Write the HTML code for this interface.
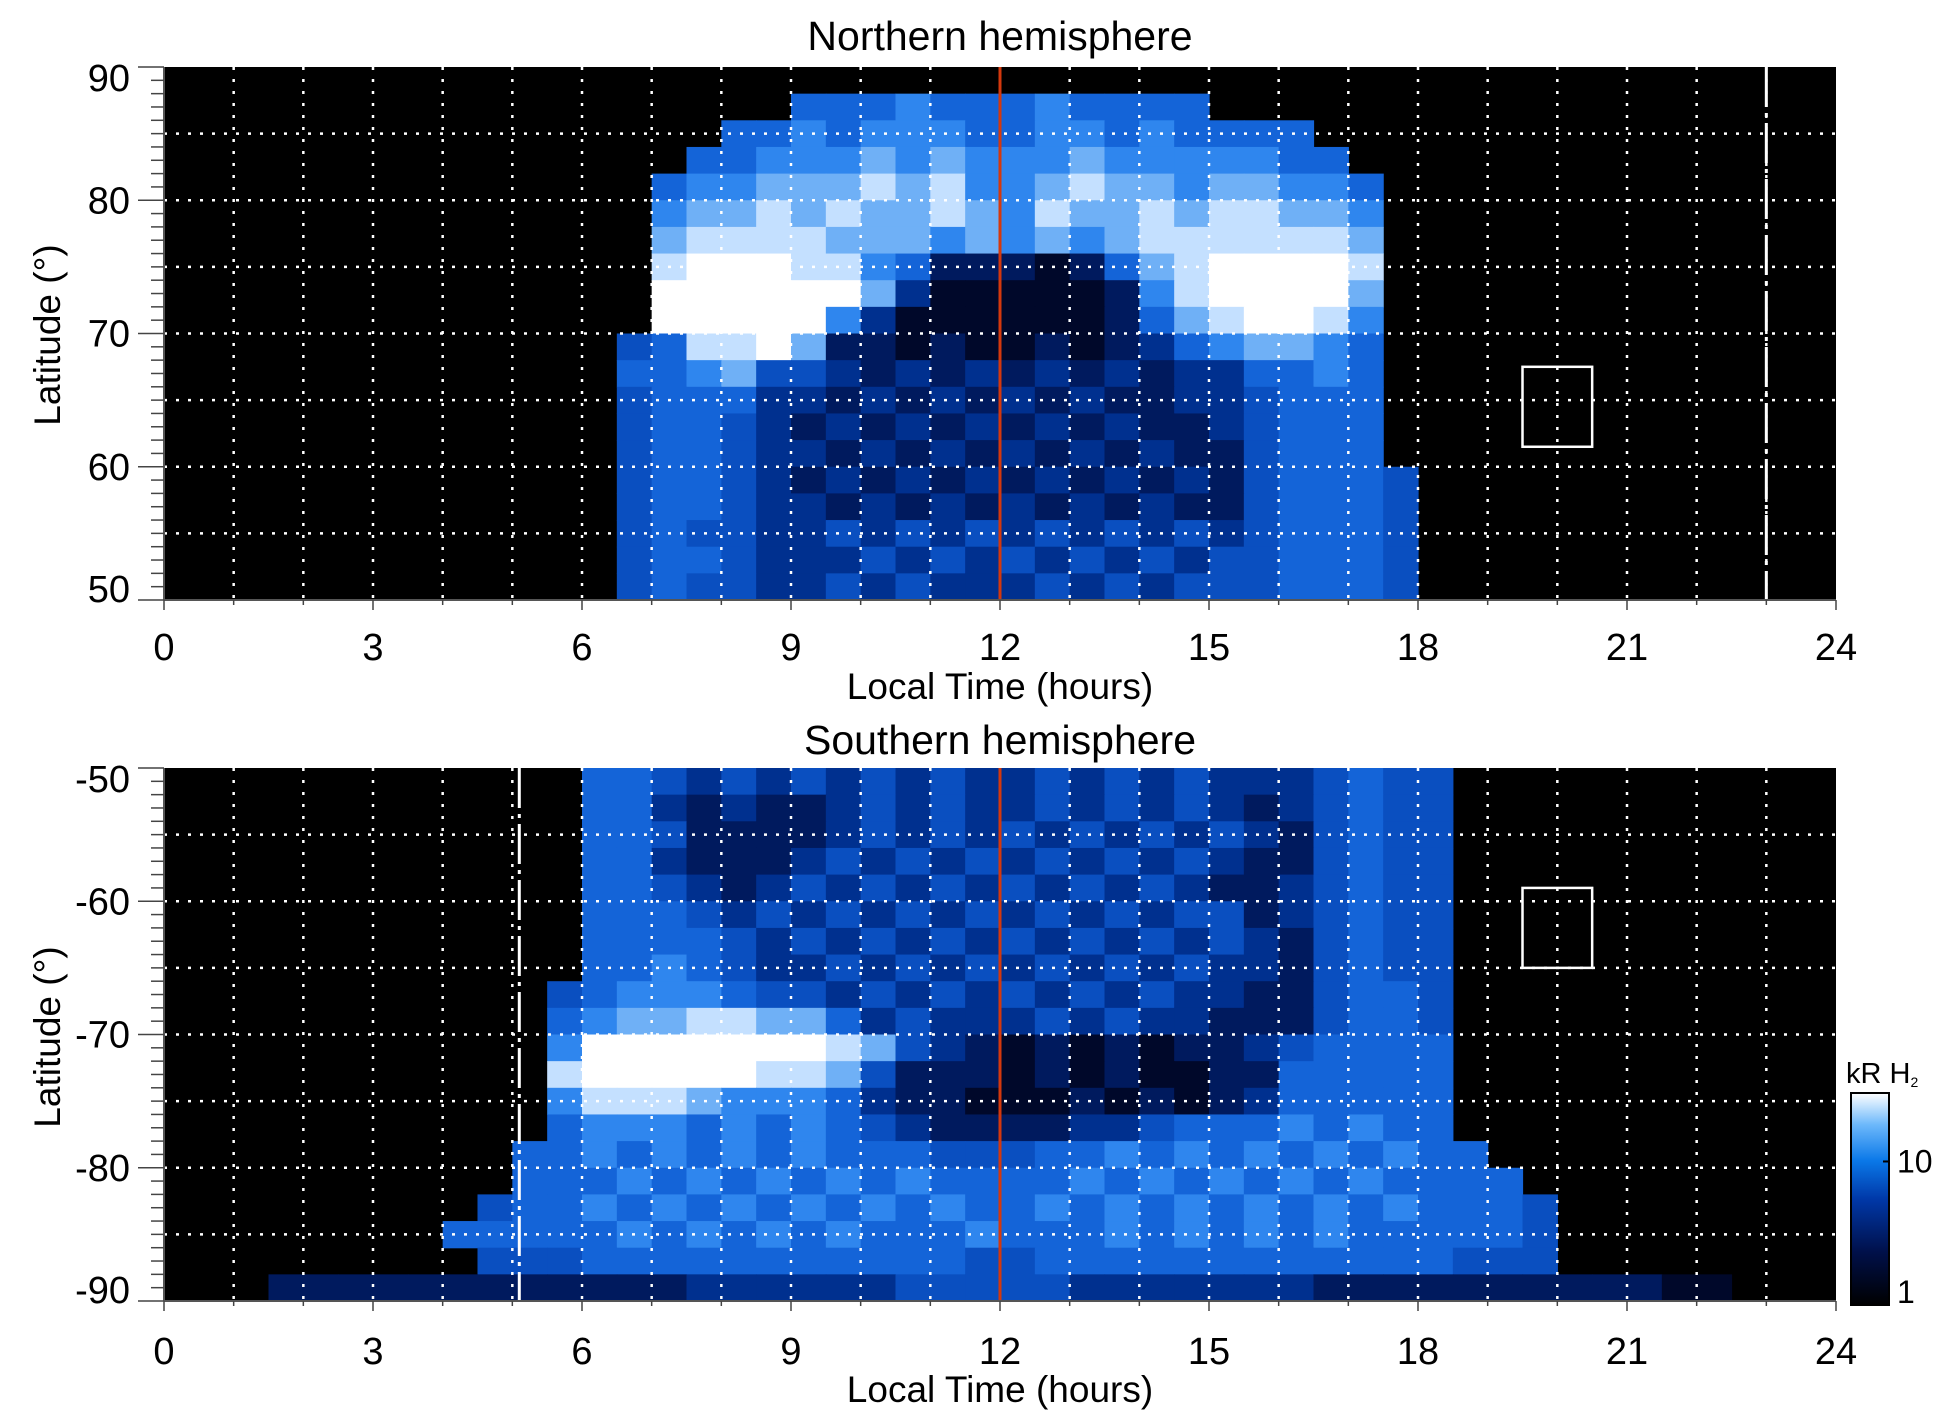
<!DOCTYPE html>
<html><head><meta charset="utf-8"><title>Auroral H2 emission maps</title>
<style>
html,body{margin:0;padding:0;background:#fff;}
svg{display:block;font-family:"Liberation Sans",Arial,sans-serif;}
</style></head>
<body>
<svg id="chart" width="1950" height="1423" viewBox="0 0 1950 1423" xmlns="http://www.w3.org/2000/svg">
<defs>
<linearGradient id="cbgrad" x1="0" y1="1" x2="0" y2="0">
<stop offset="0" stop-color="#000000"/>
<stop offset="0.25" stop-color="#00104a"/>
<stop offset="0.5" stop-color="#0038a8"/>
<stop offset="0.68" stop-color="#0a78e8"/>
<stop offset="0.85" stop-color="#6cb8fb"/>
<stop offset="1" stop-color="#ffffff"/>
</linearGradient>
</defs>
</svg>
<script>
// ---- data ----
const timeTicks = [0,3,6,9,12,15,18,21,24];
const northLatTicks = [90,80,70,60,50];
const southLatTicks = [-50,-60,-70,-80,-90];
const cbTickValues = [1,10];
const cbTickLabels = ['1','10'];
// intensity levels (0 black .. 9 white); columns = 0.5 h bins from 0 h, rows = 2 deg bins
const northRows = [
"000000 000000 000000 000000 000000 000000 000000 000000",
"000000 000000 000000 555655 565555 000000 000000 000000",
"000000 000000 000055 656665 566565 555000 000000 000000",
"000000 000000 000556 667676 667666 665500 000000 000000",
"000000 000000 005667 778786 678776 776650 000000 000000",
"000000 000000 006778 787787 687787 887760 000000 000000",
"000000 000000 007888 877767 676788 888870 000000 000000",
"000000 000000 008999 886522 212578 999980 000000 000000",
"000000 000000 009999 997311 111268 999970 000000 000000",
"000000 000000 009999 963111 111257 899860 000000 000000",
"000000 000000 045889 722121 121235 677650 000000 000000",
"000000 000000 055674 432323 232323 355650 000000 000000",
"000000 000000 045553 323232 323223 345550 000000 000000",
"000000 000000 045543 232323 232322 345550 000000 000000",
"000000 000000 045543 323232 323232 245550 000000 000000",
"000000 000000 045543 232323 232323 245554 000000 000000",
"000000 000000 045543 323232 323232 245554 000000 000000",
"000000 000000 045443 343434 343434 345554 000000 000000",
"000000 000000 045543 334343 434343 445554 000000 000000",
"000000 000000 045443 343433 343434 445554 000000 000000"
];
const southRows = [
"000000 000000 554343 434343 343434 333454 400000 000000",
"000000 000000 553232 234343 343434 323454 400000 000000",
"000000 000000 554222 234343 434343 432454 400000 000000",
"000000 000000 553222 343434 343434 322454 400000 000000",
"000000 000000 554323 434343 434343 223454 400000 000000",
"000000 000000 555434 343434 343434 423454 400000 000000",
"000000 000000 555543 434343 434343 432454 400000 000000",
"000000 000000 556543 343434 343434 332454 400000 000000",
"000000 000004 566654 434343 434343 322455 400000 000000",
"000000 000005 677887 753433 343433 222455 400000 000000",
"000000 000006 999999 987432 121212 234555 500000 000000",
"000000 000008 999998 874222 121211 225555 500000 000000",
"000000 000006 888766 653221 112121 235555 500000 000000",
"000000 000005 666565 654322 223345 556565 500000 000000",
"000000 000055 656565 655544 455656 565656 550000 000000",
"000000 000055 565656 565655 556565 656565 555000 000000",
"000000 000455 656565 656565 565656 565656 555400 000000",
"000000 005555 565656 565556 555656 565655 555400 000000",
"000000 000444 555555 555554 455555 555555 544400 000000",
"000222 222222 222333 333444 443333 333222 222222 211000"
];
const noonTime = 12;
const northDashTime = 23.0;
const southDashTime = 5.1;
const northBox = [19.5, 20.5, 67.5, 61.5];
const southBox = [19.5, 20.5, -59, -65];

// ---- layout ----
const NS='http://www.w3.org/2000/svg';
const svg=document.getElementById('chart');
const X0=164, X1=1836;
const panels=[
 {name:'north', top:67, bot:600, latTop:90, latBot:50, rows:northRows, ticks:northLatTicks, title:'Northern hemisphere', titleY:50, tickY:660, xlabY:699, ylabY:335, dash:northDashTime, box:northBox},
 {name:'south', top:768, bot:1301, latTop:-50, latBot:-90, rows:southRows, ticks:southLatTicks, title:'Southern hemisphere', titleY:754, tickY:1364, xlabY:1402, ylabY:1037, dash:southDashTime, box:southBox}
];
const palette=['#000000','#00082a','#001a5e','#00308f','#0a4fc0','#1464d8','#2f86ee','#6fb0f6','#c4e0ff','#ffffff'];
function xs(h){return X0+(X1-X0)*h/24;}
function el(tag,attrs,parent){const e=document.createElementNS(NS,tag);for(const k in attrs)e.setAttribute(k,attrs[k]);(parent||svg).appendChild(e);return e;}

panels.forEach(p=>{
  const ys=lat=>p.top+(p.bot-p.top)*(p.latTop-lat)/(p.latTop-p.latBot);
  const g=el('g',{});
  
  
  const bg=el('rect',{x:X0,y:p.top,width:X1-X0,height:p.bot-p.top,fill:'#000'},g);
  
  
  const nr=p.rows.length;
  const dLat=(p.latTop-p.latBot)/nr;
  p.rows.forEach((row,ri)=>{
    const vals=row.replace(/ /g,'').split('').map(Number);
    const la0=p.latTop-ri*dLat, la1=la0-dLat;
    vals.forEach((v,ci)=>{
      if(!v) return;
      const h0=ci*24/vals.length, h1=(ci+1)*24/vals.length;
      const c=el('rect',{x:xs(h0).toFixed(2),y:ys(la0).toFixed(2),width:(xs(h1)-xs(h0)+0.6).toFixed(2),height:(ys(la1)-ys(la0)+0.6).toFixed(2),fill:palette[v]},g);
      
      
    });
  });
  for(let h=1;h<24;h++){
    const l=el('line',{x1:xs(h),x2:xs(h),y1:p.top,y2:p.bot,stroke:'#fff','stroke-width':2.5,'stroke-dasharray':'3 9'},g);
    
    
  }
  for(let la=Math.min(p.latTop,p.latBot)+5;la<Math.max(p.latTop,p.latBot);la+=5){
    const l=el('line',{x1:X0,x2:X1,y1:ys(la),y2:ys(la),stroke:'#fff','stroke-width':2.5,'stroke-dasharray':'3 9'},g);
    
    
  }
  const dl=el('line',{x1:xs(p.dash),x2:xs(p.dash),y1:p.top,y2:p.bot,stroke:'#fff','stroke-width':3,'stroke-dasharray':'40 6 4 6'},g);
  
  
  const b=p.box;
  const bx=el('rect',{x:xs(b[0]),y:ys(b[2]),width:xs(b[1])-xs(b[0]),height:ys(b[3])-ys(b[2]),fill:'none',stroke:'#fff','stroke-width':2.5},g);
  
  
  const nl=el('line',{x1:xs(noonTime),x2:xs(noonTime),y1:p.top,y2:p.bot,stroke:'#d4380d','stroke-width':3},g);
  
  
  const ax=el('line',{x1:X0,x2:X1,y1:p.bot,y2:p.bot,stroke:'#555','stroke-width':2},g);
  
  
  const ay=el('line',{x1:X0,x2:X0,y1:p.top,y2:p.bot,stroke:'#555','stroke-width':2},g);
  
  
  const lo=Math.min(p.latTop,p.latBot), hi=Math.max(p.latTop,p.latBot);
  for(let la=lo;la<=hi;la++){
    const major=la%10===0;
    const t=el('line',{x1:major?138:151,x2:X0,y1:ys(la),y2:ys(la),stroke:'#444','stroke-width':1.5},g);
    
    
  }
  p.ticks.forEach((la,i)=>{
    let y=ys(la);
    if(i===0) y+=11; if(i===p.ticks.length-1) y-=11;
    const t=el('text',{x:130,y:y+13,'text-anchor':'end','font-size':38,fill:'#000'},g);
    t.textContent=String(la);
    
    
  });
  for(let h=0;h<=24;h++){
    const major=h%3===0;
    const t=el('line',{x1:xs(h),x2:xs(h),y1:p.bot,y2:p.bot+(major?10:5),stroke:'#444','stroke-width':1.5},g);
    
    
  }
  timeTicks.forEach(h=>{
    const t=el('text',{x:xs(h),y:p.tickY,'text-anchor':'middle','font-size':38,fill:'#000'},g);
    t.textContent=String(h);
    
    
  });
  const xl=el('text',{x:(X0+X1)/2,y:p.xlabY,'text-anchor':'middle','font-size':37,fill:'#000'},g);
  xl.textContent='Local Time (hours)';
  
  
  const yl=el('text',{x:0,y:0,'text-anchor':'middle','font-size':37,fill:'#000',transform:`translate(60,${p.ylabY}) rotate(-90)`},g);
  yl.textContent='Latitude (°)';
  
  
  const tt=el('text',{x:(X0+X1)/2,y:p.titleY,'text-anchor':'middle','font-size':41,fill:'#000'},g);
  tt.textContent=p.title;
  
  
});

// colorbar
const CB={x:1851,y0:1093,y1:1305,w:38,vmin:1,vmax:30};
const cbY=v=>CB.y1-(CB.y1-CB.y0)*Math.log10(v/CB.vmin)/Math.log10(CB.vmax/CB.vmin);
const cg=el('g',{});


const cr=el('rect',{x:CB.x,y:CB.y0,width:CB.w,height:CB.y1-CB.y0,fill:'url(#cbgrad)',stroke:'#000','stroke-width':2},cg);


cbTickValues.forEach((v,i)=>{
  const y=cbY(v);
  const t=el('line',{x1:CB.x+CB.w-6,x2:CB.x+CB.w,y1:y,y2:y,stroke:'#000','stroke-width':2},cg);
  
  
  const lb=el('text',{x:CB.x+CB.w+8,y:(i===0?y-2:y+11),'font-size':32,fill:'#000'},cg);
  lb.textContent=cbTickLabels[i];
  
  
});
const ct=el('text',{x:1846,y:1083,'font-size':29,fill:'#000'},cg);
ct.innerHTML='kR H<tspan font-size="14" dy="4">2</tspan>';


</script>
</body></html>
